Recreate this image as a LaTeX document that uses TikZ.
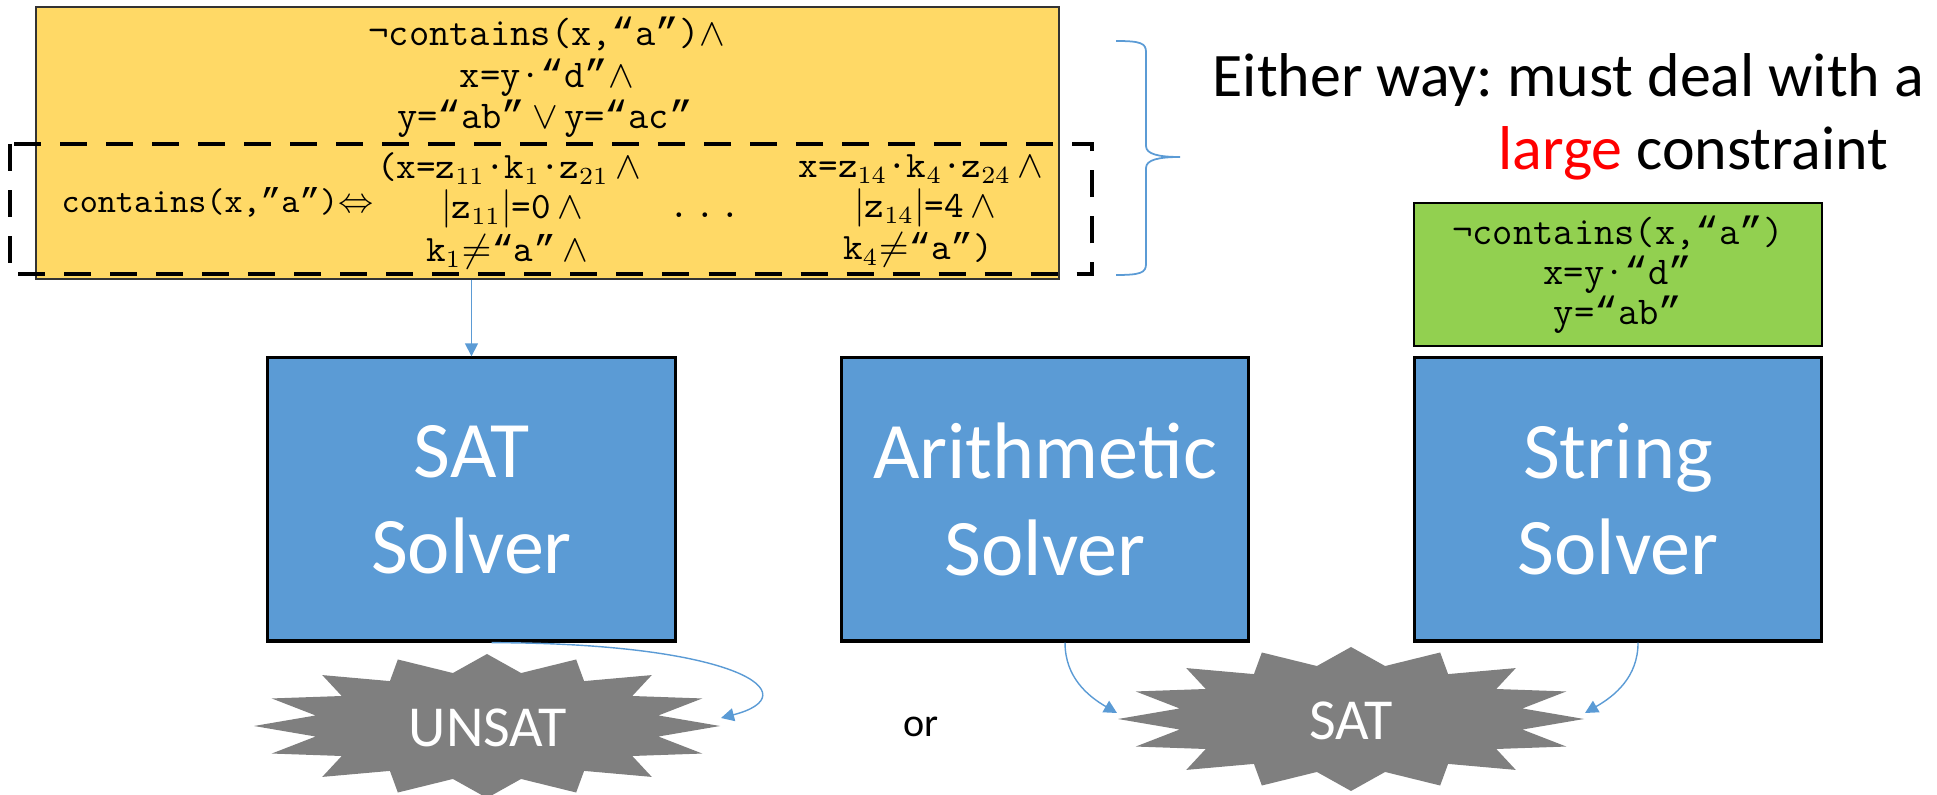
\documentclass[tikz,border=0pt]{standalone}
\usepackage{fontspec}
\setmainfont{Carlito}
\newfontfamily\quotefont{Liberation Mono}
\newcommand\myoq{{\quotefont “}}
\newcommand\mycq{{\quotefont ”}}
\usetikzlibrary{arrows.meta}
\frenchspacing

\definecolor{boxblue}{HTML}{5B9BD5}
\definecolor{consyellow}{HTML}{FFD966}
\definecolor{hintgreen}{HTML}{92D050}
\definecolor{burstgray}{HTML}{7F7F7F}

\tikzset{
  solver/.style={draw=black, line width=0.9pt, fill=boxblue, text=white, align=center,
    minimum width=4.07cm, minimum height=2.83cm, font=\fontsize{22.8}{27.4}\selectfont},
  flow/.style={draw=boxblue, line width=0.4pt, -{Triangle[length=0.13cm,width=0.13cm]}},
  formula/.style={anchor=base, inner sep=0pt, font=\ttfamily\fontsize{11.2}{13}\selectfont},
  subformula/.style={anchor=base, inner sep=0pt, font=\ttfamily\fontsize{10.6}{12.2}\selectfont},
  burstlabel/.style={anchor=base, inner sep=0pt, text=white, font=\fontsize{16.5}{19.8}\selectfont},
}

\begin{document}
\begin{tikzpicture}[x=0.01cm, y=-0.01cm]
        \useasboundingbox (0,0) rectangle (1937,795);

        % the large constraint
        \node[draw=black!80, line width=0.6pt, fill=consyellow, minimum width=10.23cm, minimum height=2.72cm] (cons) at (547.5,143) {};

        \node[formula] (t1) at (547,46) {¬contains(x,\myoq a\mycq)$\wedge$};
        \node[formula] (t2) at (547,88) {x=y·\myoq d\mycq$\wedge$};
        \node[formula] (t3) at (545,129) {y=\myoq ab\mycq\,$\vee$\,y=\myoq ac\mycq};

        \node[anchor=base west, inner sep=0pt, font=\ttfamily\fontsize{9.8}{11.8}\selectfont] (lhs) at (61,213) {contains(x,\mycq a\mycq)$\Leftrightarrow$};

        \node[subformula] (c1a) at (509,179) {(x=z$_{11}$·k$_1$·z$_{21}$\,$\wedge$};
        \node[subformula] (c1b) at (512,219) {$|$z$_{11}|$=0\,$\wedge$};
        \node[subformula] (c1c) at (507,262) {k$_1$$\neq$\myoq a\mycq\,$\wedge$};
        \node[subformula] (dots) at (705,218) {.\,.\,.};
        \node[subformula] (c4a) at (921,178) {x=z$_{14}$·k$_4$·z$_{24}$\,$\wedge$};
        \node[subformula] (c4b) at (925,218) {$|$z$_{14}|$=4\,$\wedge$};
        \node[subformula] (c4c) at (918,260) {k$_4$$\neq$\myoq a\mycq)};

        \draw[line width=1.4pt, dash pattern=on 0.27cm off 0.19cm] (10,144) rectangle (1092,274);

        % brace
        \draw[boxblue, line width=0.5pt] (1116,41) .. controls (1140,41) and (1146,43) .. (1146,52) -- (1146,146)
          .. controls (1146,154) and (1158,157) .. (1180,157)
          .. controls (1158,157) and (1146,160) .. (1146,168) -- (1146,264)
          .. controls (1146,273) and (1140,275) .. (1116,275);

        \node[anchor=base west, inner sep=0pt, font=\fontsize{17.6}{21}\selectfont] (either) at (1212,97) {Either way: must deal with a};
        \node[anchor=base east, inner sep=0pt, font=\fontsize{17.6}{21}\selectfont] (large) at (1889,170) {\textcolor{red}{large} constraint};

        \node[draw=black, line width=0.6pt, fill=hintgreen, minimum width=4.08cm, minimum height=1.43cm, align=center, inner sep=0pt, font=\ttfamily\fontsize{11.2}{11.4}\selectfont] (hint) at (1618,274.5) {¬contains(x,\myoq a\mycq)\\x=y·\myoq d\mycq\\y=\myoq ab\mycq};

        % solvers
        \node[solver] (satsolver) at (471.5,499.5) {SAT\\Solver};
        \node[solver] (arith) at (1045,499.5) {Arithmetic\\Solver};
        \node[solver] (string) at (1618,499.5) {String\\Solver};

        % results
        \foreach \cx/\cy in {487/726, 1351/719} {
          \fill[burstgray] plot[samples at={0,...,31}] ({\cx+233*(1-0.25*mod(\x,2))*cos(11.25*\x-90)}, {\cy+72*(1-0.25*mod(\x,2))*sin(11.25*\x-90)}) -- cycle;
        }
        \node[burstlabel] (unsat) at (488,747) {UNSAT};
        \node[burstlabel] (satres) at (1351,739) {SAT};
        \node[anchor=base, inner sep=0pt, font=\fontsize{11.4}{13.7}\selectfont] (or) at (921,737) {or};

        \coordinate (unsatE) at (721,718);
        \coordinate (satW) at (1117,713);
        \coordinate (satE) at (1585,713);

        \draw[flow] (cons.south -| satsolver) -- (satsolver.north);
        \draw[flow] ([xshift=0.2cm]satsolver.south) .. controls (740,643) and (810,695) .. (unsatE);
        \draw[flow] ([xshift=0.2cm]arith.south) to[out=-90, in=150] (satW);
        \draw[flow] ([xshift=0.2cm]string.south) to[out=-90, in=30] (satE);

\end{tikzpicture}
\end{document}
